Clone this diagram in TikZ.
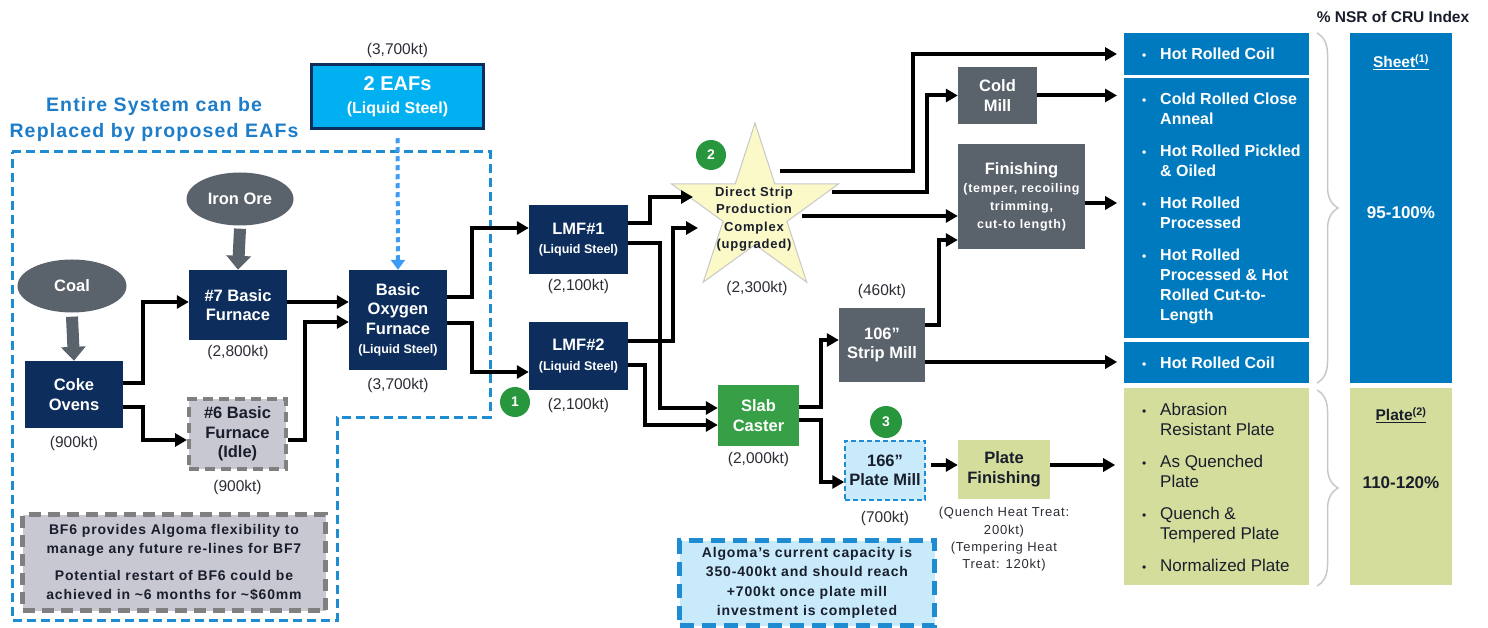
\documentclass[tikz,border=0pt]{standalone}
\usepackage{fontspec}
\setmainfont{Liberation Sans}
\newfontfamily\spacedfont{Liberation Sans}[LetterSpace=6]
\usetikzlibrary{arrows.meta, positioning, calc, shapes.geometric, decorations.pathreplacing}

\definecolor{navy}{RGB}{13,46,92}
\definecolor{millgray}{RGB}{90,98,108}
\definecolor{eafblue}{RGB}{0,176,240}
\definecolor{labelblue}{RGB}{30,125,200}
\definecolor{dashblue}{RGB}{30,140,210}
\definecolor{dotblue}{RGB}{60,155,245}
\definecolor{sheetblue}{RGB}{0,122,190}
\definecolor{plategreen}{RGB}{212,221,155}
\definecolor{castergreen}{RGB}{55,160,70}
\definecolor{badgegreen}{RGB}{40,150,60}
\definecolor{paleblue}{RGB}{200,234,250}
\definecolor{notegray}{RGB}{200,200,210}
\definecolor{idlegray}{RGB}{128,128,128}
\definecolor{starfill}{RGB}{252,249,200}
\definecolor{darktext}{RGB}{25,30,45}
\definecolor{captext}{RGB}{45,45,55}
\definecolor{bracegray}{RGB}{200,200,200}

\newcommand{\itemdot}{\llap{{\fontsize{12}{12}\selectfont\textbullet}\hspace{14pt}}}
\newcommand{\subline}[1]{{\fontsize{12.5}{15}\selectfont #1}}
\newcommand{\finline}[1]{{\spacedfont\bfseries\fontsize{12.5}{17.5}\selectfont #1}}

\begin{document}
\begin{tikzpicture}[
  x=1pt, y=-1pt,
  navybox/.style = {
    fill=navy,
    text=white,
    inner sep=0pt,
    align=center,
    font=\bfseries\fontsize{16.5}{19.5}\selectfont
  },
  millbox/.style = {navybox, fill=millgray},
  source/.style = {
    ellipse,
    fill=millgray,
    text=white,
    minimum width=107pt,
    minimum height=53pt,
    inner sep=0pt,
    font=\bfseries\fontsize{16.5}{19.5}\selectfont
  },
  capacity/.style = {inner sep=0pt, text=captext, font=\fontsize{15.5}{18}\selectfont},
  badge/.style = {
    circle,
    fill=badgegreen,
    text=white,
    minimum size=30pt,
    inner sep=0pt,
    font=\bfseries\fontsize{14}{14}\selectfont
  },
  notebox/.style = {
    inner sep=0pt,
    align=center,
    line width=5pt,
    text=darktext,
    font=\spacedfont\bfseries\fontsize{14}{19.5}\selectfont
  },
  productbox/.style = {fill=sheetblue, minimum width=185pt, inner sep=0pt},
  listtext/.style = {
    inner sep=0pt,
    align=left,
    text=white,
    anchor=west,
    font=\bfseries\fontsize{16}{20}\selectfont
  },
  gradetext/.style = {inner sep=0pt, text=white, font=\bfseries\fontsize{15.5}{18}\selectfont},
  flow/.style = {line width=4pt, -{Triangle[length=12pt, width=13pt]}},
  feed/.style = {draw=millgray, line width=12pt, -{Triangle[length=14pt, width=24pt]}},
  eaf_link/.style = {
    draw=dotblue,
    line width=4pt,
    dash pattern=on 5pt off 4pt,
    -{Triangle[length=10pt, width=14pt]}
  },
  eaf_boundary/.style = {draw=dashblue, line width=3pt, dash pattern=on 9pt off 5pt},
  bracket/.style = {draw=bracegray, line width=1.5pt, decorate, decoration={brace, amplitude=21pt}}
]

\useasboundingbox[fill=white] (0,0) rectangle (1488,628);

% ======================================================
% IRON MAKING (replaceable by EAFs)
% ======================================================

\draw[eaf_boundary] (12,152) -- (490,152) -- (490,417) -- (337,417) -- (337,620) -- (12,620) -- cycle;

\node[text=labelblue, align=center, inner sep=0pt,
  font=\spacedfont\bfseries\fontsize{19.5}{26}\selectfont] (eaf_scope) at (154,119)
  {Entire System can be\\Replaced by proposed EAFs};

\node[navybox, fill=eafblue, draw=navy, line width=3.5pt, minimum width=172pt, minimum height=64pt,
  font=\bfseries\fontsize{20}{23}\selectfont] (eaf) at (397.5,96.5)
  {2 EAFs\\{\fontsize{16}{19}\selectfont(Liquid Steel)}};
\node[capacity, above=5pt of eaf] (eaf_cap) {(3,700kt)};

\node[source] (iron) at (240,199) {Iron Ore};
\node[source, minimum width=109pt] (coal) at (72,286) {Coal};

\node[navybox, minimum width=98pt, minimum height=67pt] (coke) at (74,394.5) {Coke\\Ovens};
\node[capacity, below=8pt of coke] (coke_cap) {(900kt)};

\node[navybox, minimum width=98pt, minimum height=70pt] (bf7) at (238,305) {\#7 Basic\\Furnace};
\node[capacity, below=5pt of bf7] (bf7_cap) {(2,800kt)};

\node[navybox, fill=notegray, text=darktext, draw=idlegray, line width=4pt,
  dash pattern=on 10pt off 6pt, minimum width=97pt, minimum height=70pt] (bf6) at (237.5,434)
  {\#6 Basic\\Furnace\\(Idle)};
\node[capacity, below=9pt of bf6] (bf6_cap) {(900kt)};

\node[navybox, minimum width=98pt, minimum height=100pt] (bof) at (398,320)
  {Basic\\Oxygen\\Furnace\\\subline{(Liquid Steel)}};
\node[capacity, below=8pt of bof] (bof_cap) {(3,700kt)};

\node[notebox, fill=notegray, draw=idlegray, dash pattern=on 12pt off 7pt,
  minimum width=303pt, minimum height=96pt] (bf6_note) at (174,562.5)
  {BF6 provides Algoma flexibility to\\manage any future re-lines for BF7\\[7pt]
   Potential restart of BF6 could be\\achieved in \textasciitilde6 months for \textasciitilde\$60mm};

\draw[feed] ($(coal.south)+(0,4)$) -- (coke.north);
\draw[feed] ($(iron.south)+(0,3)$) -- (bf7.north);
\draw[eaf_link] ($(eaf.south)+(0,8)$) -- (bof.north);

\draw[flow] ($(coke.east)+(0,-11.5)$) -- ++(20,0) |- ($(bf7.west)+(0,-3)$);
\draw[flow] ($(coke.east)+(0,12.5)$) -- ++(20,0) |- ($(bf6.west)+(0,6)$);
\draw[flow] ($(bf7.east)+(0,-3)$) -- ($(bof.west)+(0,-18)$);
\draw[flow] ($(bf6.east)+(0,6)$) -- ++(17,0) |- ($(bof.west)+(0,2)$);

% ======================================================
% STEEL MAKING AND CASTING
% ======================================================

\node[navybox, minimum width=99pt, minimum height=69pt] (lmf1) at (578.5,239.5)
  {LMF\#1\\\subline{(Liquid Steel)}};
\node[capacity, below=5pt of lmf1] (lmf1_cap) {(2,100kt)};

\node[navybox, minimum width=99pt, minimum height=68pt] (lmf2) at (578.5,356)
  {LMF\#2\\\subline{(Liquid Steel)}};
\node[capacity, below=8pt of lmf2] (lmf2_cap) {(2,100kt)};
\node[badge] (badge_one) at (515,402) {1};

\node[star, star points=5, star point ratio=2.618, minimum size=176pt, inner sep=0pt,
  fill=starfill, draw=bracegray, line width=1pt] (dsp) at (755,211) {};
\node[align=center, inner sep=0pt, text=darktext,
  font=\spacedfont\bfseries\fontsize{13}{17.5}\selectfont] (dsp_text) at (754,219)
  {Direct Strip\\Production\\Complex\\(upgraded)};
\node[capacity] (dsp_cap) at (757,288) {(2,300kt)};
\node[badge] (badge_two) at (711,155) {2};

\node[navybox, fill=castergreen, minimum width=81pt, minimum height=61pt] (slab) at (758.5,415.5)
  {Slab\\Caster};
\node[capacity, below=6pt of slab] (slab_cap) {(2,000kt)};

\draw[flow] ($(bof.east)+(0,-23)$) -- ++(25,0) |- ($(lmf1.west)+(0,-11.5)$);
\draw[flow] ($(bof.east)+(0,3)$) -- ++(25,0) |- ($(lmf2.west)+(0,16)$);

\draw[flow] ($(lmf1.east)+(0,-16.5)$) -- ++(22,0) |- ($(dsp.center)+(-62,-14)$);
\draw[flow] ($(lmf1.east)+(0,3.5)$) -- ++(32,0) |- ($(slab.west)+(0,-7.5)$);
\draw[flow] ($(lmf2.east)+(0,-15)$) -- ++(45,0) |- ($(dsp.center)+(-57,17)$);
\draw[flow] ($(lmf2.east)+(0,9)$) -- ++(17,0) |- ($(slab.west)+(0,9.5)$);

% ======================================================
% ROLLING AND FINISHING
% ======================================================

\node[millbox, minimum width=79pt, minimum height=57pt] (cold) at (997.5,95.5) {Cold\\Mill};

\node[millbox, minimum width=127pt, minimum height=105pt, font=\bfseries\fontsize{16.5}{18}\selectfont]
  (finish) at (1021.5,196.5)
  {Finishing\\\finline{(temper, recoiling}\\\finline{trimming,}\\\finline{cut-to length)}};

\node[millbox, minimum width=86pt, minimum height=74pt] (strip) at (882,345) {106”\\Strip Mill};
\node[capacity, above=9pt of strip] (strip_cap) {(460kt)};

\node[navybox, fill=paleblue, text=darktext, draw=dashblue, line width=1.5pt,
  dash pattern=on 5pt off 3pt, minimum width=80pt, minimum height=59pt] (plate_mill) at (885,470.5)
  {166”\\Plate Mill};
\node[capacity, below=10pt of plate_mill] (plate_mill_cap) {(700kt)};
\node[badge, minimum size=32pt] (badge_three) at (886,422) {3};

\node[navybox, fill=plategreen, text=darktext, minimum width=92pt, minimum height=59pt]
  (plate_fin) at (1004,469.5) {Plate\\Finishing};
\node[capacity, below=8pt of plate_fin, align=center,
  font=\spacedfont\fontsize{13}{17.3}\selectfont] (plate_fin_note)
  {(Quench Heat Treat:\\200kt)\\(Tempering Heat\\Treat: 120kt)};

\node[notebox, fill=paleblue, draw=dashblue, dash pattern=on 14pt off 8pt,
  minimum width=255pt, minimum height=85pt] (plate_note) at (807,583)
  {Algoma’s current capacity is\\350-400kt and should reach\\+700kt once plate mill\\investment is completed};

\coordinate (tipx) at (1117,0);

% ======================================================
% PRODUCTS AND PRICING
% ======================================================

\node[inner sep=0pt, text=darktext, font=\bfseries\fontsize{15.5}{18}\selectfont] (nsr_title)
  at (1393,17) {\% NSR of CRU Index};

\node[productbox, minimum height=42pt] (hrc_top) at (1216.5,54) {};
\node[productbox, minimum height=260pt] (sheet_list) at (1216.5,208) {};
\node[productbox, minimum height=41pt] (hrc_strip) at (1216.5,362.5) {};
\node[productbox, fill=plategreen, minimum height=197pt] (plate_list) at (1216.5,486.5) {};

\node[listtext] (hrc_top_text) at (1160,54) {\itemdot Hot Rolled Coil};
\node[listtext] (sheet_list_text) at (1160,208)
  {\itemdot Cold Rolled Close\\Anneal\\[12pt]
   \itemdot Hot Rolled Pickled\\\& Oiled\\[12pt]
   \itemdot Hot Rolled\\Processed\\[12pt]
   \itemdot Hot Rolled\\Processed \& Hot\\Rolled Cut-to-\\Length};
\node[listtext] (hrc_strip_text) at (1160,363) {\itemdot Hot Rolled Coil};
\node[listtext, text=darktext, font=\fontsize{17}{20}\selectfont] (plate_list_text) at (1160,487)
  {\itemdot Abrasion\\Resistant Plate\\[12pt]
   \itemdot As Quenched\\Plate\\[12pt]
   \itemdot Quench \&\\Tempered Plate\\[12pt]
   \itemdot Normalized Plate};

\node[productbox, minimum width=102pt, minimum height=350pt] (sheet_grade) at (1401,208) {};
\node[gradetext] (sheet_title) at (1401,62) {\underline{Sheet\textsuperscript{(1)}}};
\node[gradetext, font=\bfseries\fontsize{17}{20}\selectfont] (sheet_nsr) at (1401,213) {95-100\%};

\node[productbox, fill=plategreen, minimum width=102pt, minimum height=197pt] (plate_grade) at (1401,486.5) {};
\node[gradetext, text=darktext] (plate_title) at (1401,415) {\underline{Plate\textsuperscript{(2)}}};
\node[gradetext, text=darktext, font=\bfseries\fontsize{17}{20}\selectfont] (plate_nsr) at (1401,483) {110-120\%};

\draw[bracket] (1317,33) -- (1317,383);
\draw[bracket] (1317,390) -- (1317,586);

% product flows
\draw[flow] ($(dsp.center)+(25,-40)$) -- ++(133,0) |- (hrc_top.west -| tipx);
\draw[flow] ($(dsp.center)+(77,-19)$) -- ++(95,0) |- (cold.west);
\draw[flow] ($(dsp.center)+(47,5)$) -- ($(finish.west)+(0,19.5)$);
\draw[flow] (cold.east) -- (cold.east -| tipx);
\draw[flow] ($(finish.east)+(0,6.5)$) -- ++(32,0);
\draw[flow] ($(strip.east)+(0,-20)$) -- ++(14,0) |- ($(finish.west)+(0,43.5)$);
\draw[flow] ($(strip.east)+(0,17)$) -- ++(192,0);
\draw[flow] ($(slab.east)+(0,-8.5)$) -- ++(22,0) |- ($(strip.west)+(0,-5)$);
\draw[flow] ($(slab.east)+(0,4.5)$) -- ++(22,0) |- ($(plate_mill.west)+(0,11.5)$);
\draw[flow] ($(plate_mill.east)+(5,-5.5)$) -- ($(plate_fin.west)+(0,-4.5)$);
\draw[flow] ($(plate_fin.east)+(0,-4.5)$) -- ++(65,0);

\end{tikzpicture}
\end{document}
